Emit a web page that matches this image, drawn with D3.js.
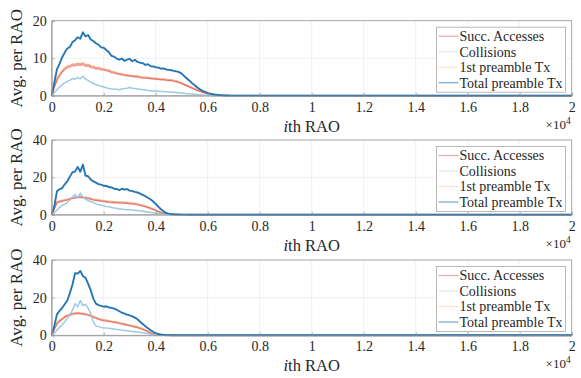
<!DOCTYPE html>
<html><head><meta charset="utf-8">
<script src="https://cdn.jsdelivr.net/npm/d3@7"></script>
<style>body{margin:0;background:#fff}svg{display:block}</style>
</head><body><svg id="c" width="581" height="378" font-family="Liberation Serif"></svg>
<script>
// ---- data (values per RAO, sampled every raoStep RAOs) ----
const raoStep = 100;
const raoMax = 20000;
const seriesNames = ["Succ. Accesses", "Collisions", "1st preamble Tx", "Total preamble Tx"];
const xTickValues = [0, 2000, 4000, 6000, 8000, 10000, 12000, 14000, 16000, 18000, 20000];
const xTickLabels = ["0", "0.2", "0.4", "0.6", "0.8", "1", "1.2", "1.4", "1.6", "1.8", "2"];
const yTicksTop = [0, 10, 20];
const yTicksLower = [0, 20, 40];

// panel 1
const succTop = [0, 2.2, 4.1, 5.2, 6.2, 6.9, 7.4, 7.6, 8.0, 7.9, 8.2, 8.0, 8.3, 7.8, 7.9, 7.5, 7.4, 7.1, 7.1, 6.9, 6.8, 6.6, 6.5, 6.1, 6.0, 5.8, 5.7, 5.5, 5.4, 5.3, 5.2, 5.1, 5.0, 5.0, 4.8, 4.7, 4.7, 4.6, 4.5, 4.4, 4.4, 4.3, 4.2, 4.2, 4.1, 4.0, 4.0, 3.8, 3.7, 3.4, 3.2, 2.9, 2.6, 2.3, 2.0, 1.7, 1.4, 1.1, 0.9, 0.7, 0.5, 0.38, 0.28, 0.2, 0.14, 0.09, 0.06, 0.04, 0.03, 0.02, 0.01];
const collTop = [0, 0.8, 1.6, 2.3, 2.9, 3.4, 3.8, 4.1, 4.6, 4.4, 4.9, 4.5, 5.2, 4.4, 4.1, 3.6, 3.3, 3.0, 2.8, 2.5, 2.3, 2.1, 1.9, 1.8, 1.7, 1.7, 1.6, 1.8, 1.9, 2.0, 2.2, 2.0, 1.9, 1.8, 1.7, 1.6, 1.5, 1.4, 1.35, 1.3, 1.25, 1.2, 1.15, 1.1, 1.05, 1.0, 0.95, 0.9, 0.85, 0.8, 0.75, 0.65, 0.55, 0.5, 0.45, 0.38, 0.3, 0.25, 0.2, 0.15, 0.12, 0.09, 0.07, 0.05, 0.04, 0.03, 0.02, 0.01, 0, 0, 0];
const firstTop = [0, 2.5, 4.5, 5.6, 6.6, 7.3, 7.8, 8.0, 8.4, 8.3, 8.6, 8.4, 8.7, 8.2, 8.3, 7.9, 7.8, 7.4, 7.5, 7.2, 7.1, 6.9, 6.8, 6.4, 6.3, 6.0, 5.9, 5.8, 5.6, 5.5, 5.4, 5.3, 5.2, 5.2, 5.0, 4.9, 4.9, 4.8, 4.7, 4.6, 4.6, 4.5, 4.4, 4.4, 4.3, 4.2, 4.2, 4.0, 3.9, 3.6, 3.4, 3.0, 2.7, 2.4, 2.1, 1.8, 1.5, 1.2, 0.95, 0.75, 0.55, 0.4, 0.3, 0.22, 0.15, 0.1, 0.07, 0.05, 0.03, 0.02, 0.01];
const totalTop = [0, 3.5, 7.0, 8.5, 10.2, 11.5, 12.6, 13.0, 14.3, 14.8, 15.6, 15.2, 16.9, 15.8, 16.2, 15.0, 14.6, 14.0, 13.6, 12.9, 12.8, 12.2, 11.6, 10.6, 10.4, 9.9, 9.6, 9.9, 9.3, 9.6, 9.8, 9.2, 9.6, 9.0, 8.8, 8.7, 8.2, 8.4, 7.9, 7.8, 7.6, 7.5, 7.2, 7.3, 7.0, 6.9, 6.8, 6.6, 6.5, 6.3, 5.9, 5.2, 4.6, 4.0, 3.3, 2.8, 2.2, 1.7, 1.3, 1.0, 0.75, 0.55, 0.4, 0.3, 0.2, 0.15, 0.1, 0.07, 0.05, 0.03, 0.02];

// panel 2
const succMid = [0, 3.2, 6.3, 6.8, 7.1, 7.5, 7.8, 8.2, 8.6, 8.9, 9.1, 9.3, 9.0, 8.8, 8.6, 8.2, 7.8, 7.6, 7.4, 7.2, 7.0, 6.8, 6.6, 6.5, 6.4, 6.3, 6.2, 6.2, 6.1, 6.0, 5.8, 5.7, 5.5, 5.3, 4.9, 4.6, 4.2, 3.8, 3.3, 2.8, 2.2, 1.6, 1.1, 0.7, 0.45, 0.28, 0.18, 0.11, 0.07, 0.04, 0.03, 0.02, 0.01, 0, 0, 0];
const collMid = [0, 1.0, 2.5, 3.8, 5.0, 5.6, 6.5, 7.9, 9.5, 10.8, 9.0, 11.5, 9.4, 8.4, 7.6, 7.1, 6.5, 5.8, 5.5, 5.0, 4.8, 4.4, 4.2, 3.9, 3.6, 3.4, 3.1, 3.0, 2.8, 2.7, 2.6, 2.5, 2.4, 2.2, 2.0, 1.8, 1.6, 1.4, 1.2, 1.0, 0.8, 0.6, 0.45, 0.3, 0.2, 0.12, 0.08, 0.05, 0.03, 0.02, 0.01, 0, 0, 0, 0, 0];
const firstMid = [0, 3.5, 6.8, 7.2, 7.5, 7.9, 8.2, 8.6, 9.0, 9.3, 9.5, 9.7, 9.4, 9.2, 9.0, 8.6, 8.2, 8.0, 7.8, 7.6, 7.4, 7.2, 7.0, 6.9, 6.8, 6.7, 6.6, 6.6, 6.5, 6.4, 6.2, 6.1, 5.9, 5.7, 5.3, 5.0, 4.6, 4.1, 3.6, 3.0, 2.4, 1.7, 1.2, 0.8, 0.5, 0.3, 0.2, 0.12, 0.08, 0.05, 0.03, 0.02, 0.01, 0, 0, 0];
const totalMid = [0, 4.5, 12.5, 13.6, 14.2, 16.3, 17.9, 20.4, 22.8, 23.1, 25.6, 23.0, 26.8, 21.0, 20.6, 18.9, 17.8, 17.2, 16.4, 16.1, 15.5, 15.4, 14.8, 14.6, 13.9, 13.8, 13.1, 13.9, 13.5, 13.7, 12.9, 12.6, 12.2, 11.9, 11.3, 10.6, 9.9, 9.1, 8.3, 7.1, 5.8, 4.3, 2.9, 1.8, 1.0, 0.6, 0.35, 0.22, 0.15, 0.1, 0.06, 0.04, 0.02, 0.01, 0, 0];

// panel 3
const succBot = [0, 3.2, 6.0, 7.4, 8.4, 9.5, 10.2, 10.6, 11.1, 11.4, 11.5, 11.3, 11.2, 10.9, 10.6, 10.2, 9.5, 9.0, 8.5, 8.0, 7.7, 7.5, 7.3, 7.0, 6.8, 6.6, 6.2, 5.9, 5.6, 5.3, 5.0, 4.6, 4.3, 3.9, 3.5, 3.0, 2.5, 1.9, 1.2, 0.7, 0.4, 0.22, 0.13, 0.08, 0.05, 0.03, 0.02, 0.01, 0, 0, 0];
const collBot = [0, 1.0, 2.8, 4.2, 5.5, 7.2, 9.0, 11.0, 13.5, 16.8, 15.2, 18.5, 15.8, 16.4, 14.4, 11.5, 7.0, 5.0, 4.6, 4.2, 4.0, 3.9, 3.7, 3.5, 3.3, 3.1, 2.9, 2.8, 2.6, 2.4, 2.2, 2.0, 1.9, 1.7, 1.5, 1.3, 1.1, 0.9, 0.6, 0.4, 0.25, 0.15, 0.1, 0.06, 0.03, 0.02, 0.01, 0, 0, 0, 0];
const firstBot = [0, 3.5, 6.4, 7.8, 8.8, 9.9, 10.6, 11.0, 11.5, 11.8, 11.9, 11.7, 11.6, 11.3, 11.0, 10.6, 9.9, 9.4, 8.9, 8.4, 8.1, 7.9, 7.7, 7.4, 7.2, 7.0, 6.6, 6.3, 6.0, 5.7, 5.4, 5.0, 4.7, 4.3, 3.9, 3.4, 2.8, 2.2, 1.4, 0.8, 0.45, 0.25, 0.15, 0.1, 0.06, 0.04, 0.02, 0.01, 0, 0, 0];
const totalBot = [0, 5.0, 11.0, 13.0, 14.5, 16.5, 18.5, 22.5, 27.0, 33.0, 32.8, 34.2, 31.5, 30.5, 27.5, 24.0, 19.5, 16.8, 16.0, 15.6, 15.2, 15.4, 14.8, 14.6, 14.2, 13.6, 12.8, 12.0, 11.5, 11.0, 10.6, 10.0, 9.4, 8.5, 7.2, 6.0, 4.8, 3.8, 2.8, 1.9, 1.2, 0.7, 0.4, 0.25, 0.15, 0.1, 0.06, 0.03, 0.02, 0.01, 0];

// ---- styles ----
const seriesColors = ["#ca0020", "#92c5de", "#f4a582", "#1a6faf"];
const seriesOpacity = [0.35, 0.9, 0.95, 0.95];
const seriesWidth = [1.3, 1.5, 1.9, 1.9];
const legendOpacity = [0.35, 0.35, 0.35, 0.6];

const panels = [
  { series: [succTop, collTop, firstTop, totalTop], yMax: 20, yTicks: yTicksTop, top: 20.7, bottom: 95.7 },
  { series: [succMid, collMid, firstMid, totalMid], yMax: 40, yTicks: yTicksLower, top: 140, bottom: 214.7 },
  { series: [succBot, collBot, firstBot, totalBot], yMax: 40, yTicks: yTicksLower, top: 260, bottom: 335.3 }
];

const svg = d3.select("#c");
const FONT = "Liberation Serif";
const left = 51.7, right = 571.7;
const textColor = "#262626";
const axisColor = "#9a9a9a";

const x = d3.scaleLinear().domain([0, raoMax]).range([left, right]);

panels.forEach((p) => {
  const y = d3.scaleLinear().domain([0, p.yMax]).range([p.bottom, p.top]);
  const g = svg.append("g");

  // grid
  g.selectAll(".gx").data(xTickValues).join("line")
    .attr("x1", d => x(d)).attr("x2", d => x(d))
    .attr("y1", p.top).attr("y2", p.bottom)
    .attr("stroke", "#e6e6e6").attr("stroke-width", 0.6);
  g.selectAll(".gy").data(p.yTicks).join("line")
    .attr("x1", left).attr("x2", right)
    .attr("y1", d => y(d)).attr("y2", d => y(d))
    .attr("stroke", "#e6e6e6").attr("stroke-width", 0.6);

  // box
  g.append("rect").attr("x", left).attr("y", p.top)
    .attr("width", right - left).attr("height", p.bottom - p.top)
    .attr("fill", "none").attr("stroke", axisColor).attr("stroke-width", 0.8);

  // series lines (draw 1st preamble under succ so the red tint shows)
  [2, 0, 1, 3].forEach((si) => {
    const vals = p.series[si];
    const pts = vals.map((v, i) => [i * raoStep, v]);
    pts.push([raoMax, 0]);
    g.append("path").datum(pts)
      .attr("fill", "none")
      .attr("stroke", seriesColors[si])
      .attr("stroke-opacity", seriesOpacity[si])
      .attr("stroke-width", seriesWidth[si])
      .attr("stroke-linejoin", "round")
      .attr("d", d3.line().x(d => x(d[0])).y(d => y(d[1])));
  });

  // axes
  const xAxis = d3.axisBottom(x).tickValues(xTickValues)
    .tickFormat((d, i) => xTickLabels[i]).tickSize(-3).tickPadding(6);
  const xa = g.append("g").attr("transform", `translate(0,${p.bottom})`).call(xAxis);
  const ya = g.append("g").attr("transform", `translate(${left},0)`)
    .call(d3.axisLeft(y).tickValues(p.yTicks).tickSize(-3).tickPadding(5));
  [xa, ya].forEach(a => {
    a.attr("font-family", FONT);
    a.select(".domain").attr("stroke", axisColor).attr("stroke-width", 0.8);
    a.selectAll(".tick line").attr("stroke", axisColor).attr("stroke-width", 0.8);
    a.selectAll("text").attr("font-family", FONT).attr("font-size", 14).attr("fill", textColor);
  });

  // y label
  svg.append("text")
    .attr("transform", `translate(22,${(p.top + p.bottom) / 2}) rotate(-90)`)
    .attr("text-anchor", "middle").attr("font-family", FONT).attr("font-size", 17)
    .attr("fill", textColor).text("Avg. per RAO");

  // x label
  const xl = svg.append("text").attr("x", (left + right) / 2).attr("y", p.bottom + 36)
    .attr("text-anchor", "middle").attr("font-family", FONT).attr("font-size", 16.5)
    .attr("fill", textColor);
  xl.append("tspan").attr("font-style", "italic").text("i");
  xl.append("tspan").text("th RAO");

  // x10^4
  const ex = svg.append("text").attr("x", right - 1).attr("y", p.bottom + 33)
    .attr("text-anchor", "end").attr("font-family", FONT).attr("font-size", 13)
    .attr("fill", textColor);
  ex.append("tspan").text("\u00d710");
  ex.append("tspan").attr("font-size", 9.5).attr("dy", -5).text("4");

  // legend
  const lx = 436.5, ly = p.top + 6.5, lw = 129, rowH = 15.5;
  const lg = svg.append("g");
  lg.append("rect").attr("x", lx).attr("y", ly).attr("width", lw).attr("height", rowH * 4 + 3)
    .attr("fill", "#fff").attr("stroke", "#a8a8a8").attr("stroke-width", 0.8);
  seriesNames.forEach((name, i) => {
    const cy = ly + 9 + i * rowH;
    lg.append("line").attr("x1", lx + 2).attr("x2", lx + 22).attr("y1", cy).attr("y2", cy)
      .attr("stroke", seriesColors[i]).attr("stroke-opacity", legendOpacity[i]).attr("stroke-width", 1.2);
    lg.append("text").attr("x", lx + 23).attr("y", cy + 4.8)
      .attr("font-family", FONT).attr("font-size", 14).attr("fill", textColor).text(name);
  });
});
</script>
</body></html>
